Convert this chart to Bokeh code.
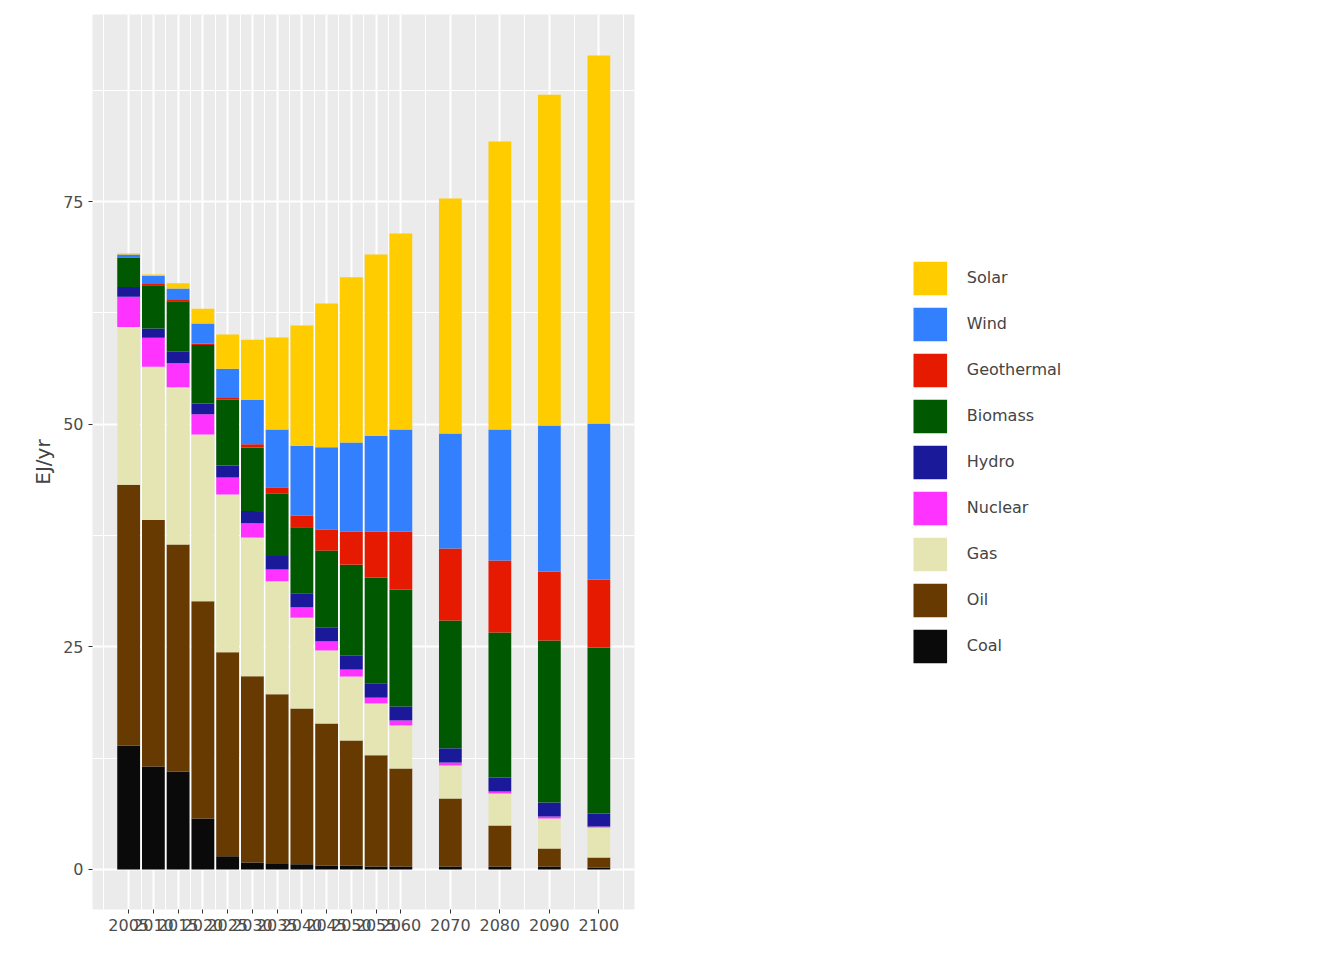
from bokeh.plotting import figure
from bokeh.models import FixedTicker, Legend, LegendItem, Range1d, ColumnDataSource
from bokeh.embed import file_html
from bokeh.resources import INLINE

years = [2005, 2010, 2015, 2020, 2025, 2030, 2035, 2040, 2045, 2050, 2055, 2060, 2070, 2080, 2090, 2100]
coal = [13.9, 11.55, 11.0, 5.73, 1.47, 0.79, 0.69, 0.57, 0.43, 0.43, 0.34, 0.34, 0.34, 0.34, 0.34, 0.22]
oil = [29.3, 27.7, 25.5, 24.38, 22.92, 20.89, 18.97, 17.51, 15.97, 14.05, 12.47, 10.99, 7.63, 4.6, 2.02, 1.13]
gas = [17.7, 17.2, 17.65, 18.74, 17.72, 15.58, 12.7, 10.19, 8.19, 7.18, 5.83, 4.84, 3.71, 3.59, 3.37, 3.37]
nuclear = [3.4, 3.26, 2.69, 2.25, 1.89, 1.6, 1.32, 1.16, 1.02, 0.78, 0.65, 0.56, 0.32, 0.23, 0.22, 0.11]
hydro = [1.1, 1.04, 1.29, 1.23, 1.37, 1.38, 1.52, 1.58, 1.58, 1.59, 1.57, 1.57, 1.6, 1.57, 1.57, 1.46]
biomass = [3.3, 4.86, 5.68, 6.56, 7.38, 7.15, 7.0, 7.41, 8.61, 10.19, 11.92, 13.14, 14.36, 16.28, 18.19, 18.63]
geothermal = [0.05, 0.14, 0.14, 0.18, 0.18, 0.36, 0.7, 1.3, 2.38, 3.73, 5.17, 6.51, 8.08, 8.08, 7.75, 7.64]
wind = [0.3, 0.92, 1.28, 2.24, 3.3, 4.95, 6.5, 7.86, 9.22, 10.0, 10.75, 11.45, 12.91, 14.71, 16.39, 17.51]
solar = [0.1, 0.13, 0.59, 1.65, 3.85, 6.78, 10.32, 13.51, 16.15, 18.54, 20.35, 22.02, 26.38, 32.33, 37.15, 41.32]

names = ["Coal", "Oil", "Gas", "Nuclear", "Hydro", "Biomass", "Geothermal", "Wind", "Solar"]
series = [coal, oil, gas, nuclear, hydro, biomass, geothermal, wind, solar]
colors = ["#0a0a0a", "#663a00", "#e5e5b3", "#ff33ff", "#191999", "#005900", "#e61a00", "#3380ff", "#ffcc00"]
y_ticks = [0, 25, 50, 75]

data = {"year": years}
for n, s in zip(names, series):
    data[n] = s
src = ColumnDataSource(data)

p = figure(width=1336, height=952, output_backend="svg", toolbar_location=None,
           x_range=Range1d(1997.7, 2107.2), y_range=Range1d(-4.5, 96.0),
           min_border_left=92, min_border_right=265, min_border_top=14, min_border_bottom=43)
p.background_fill_color = "#ebebeb"
p.border_fill_color = "white"
p.outline_line_color = None

rs = p.vbar_stack(names, x="year", width=4.6, source=src, color=colors, line_color=None)

mids = [2000] + [(a + b) / 2 for a, b in zip(years[:-1], years[1:])] + [2105]
p.xaxis.ticker = FixedTicker(ticks=years, minor_ticks=mids)
p.yaxis.ticker = FixedTicker(ticks=y_ticks, minor_ticks=[12.5, 37.5, 62.5, 87.5])
for g in (p.xgrid, p.ygrid):
    g.grid_line_color = "white"
    g.grid_line_width = 2
    g.minor_grid_line_color = "white"
    g.minor_grid_line_width = 1
    g.level = "underlay"
for ax in (p.xaxis, p.yaxis):
    ax.axis_line_color = None
    ax.major_tick_line_color = "#333333"
    ax.major_tick_in = 0
    ax.major_tick_out = 4
    ax.minor_tick_line_color = None
    ax.major_label_text_font_size = "16px"
    ax.major_label_text_color = "#4d4d4d"
    ax.major_label_text_font = "DejaVu Sans"
p.yaxis.axis_label = "EJ/yr"
p.yaxis.axis_label_text_font_size = "20px"
p.yaxis.axis_label_text_font_style = "normal"
p.yaxis.axis_label_text_font = "DejaVu Sans"

items = [LegendItem(label=n, renderers=[r]) for n, r in zip(names, rs)][::-1]
leg = Legend(items=items, location="center", glyph_width=42, glyph_height=42,
             label_height=42, spacing=4, padding=0, margin=46,
             label_text_font_size="16px", label_text_font="DejaVu Sans",
             background_fill_alpha=0, border_line_color=None, label_standoff=16)
p.add_layout(leg, "right")

open("out.html", "w").write(file_html(p, INLINE))
